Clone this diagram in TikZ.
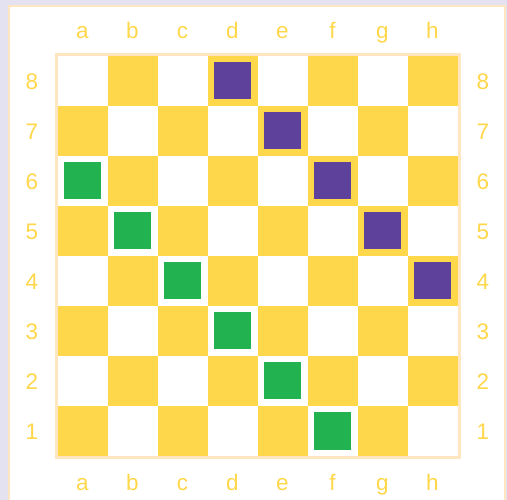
\documentclass[tikz,border=0pt]{standalone}
\usepackage{fontspec}
\setmainfont{Liberation Sans}
\definecolor{boardyellow}{HTML}{FFD74A}
\definecolor{queenpurple}{HTML}{5E419A}
\definecolor{queengreen}{HTML}{22B24F}
\definecolor{framecol}{HTML}{FDE6C0}
\definecolor{backlav}{HTML}{E4E2F0}
\tikzset{
  coordlabel/.style={text=boardyellow, font=\fontsize{22.5}{22.5}\selectfont, inner sep=0pt, anchor=base},
  piece/.style={minimum size=37pt, inner sep=0pt, draw=none}
}
\begin{document}
\begin{tikzpicture}[x=1pt,y=-1pt]
    \fill[backlav] (0,0) rectangle (507,500);
    \useasboundingbox (0,0) rectangle (507,500);
    \draw[framecol, line width=2pt, fill=white] (9,6) rectangle (505,503);
    % board squares
    \foreach \i in {0,...,7}
      \foreach \j in {0,...,7} {
        \pgfmathtruncatemacro{\odd}{mod(\i+\j,2)}
        \ifnum\odd=1
          \fill[boardyellow] (57.5+50*\i,56+50*\j) rectangle ++(50,50);
        \fi
      }
    \draw[framecol, line width=3pt] (56,54.5) rectangle (459,457.5);
    % coordinates round the board
    \foreach \l [count=\i from 0] in {a,b,c,d,e,f,g,h} {
      \node[coordlabel] (top-\l) at (82.5+50*\i,39) {\l};
      \node[coordlabel] (bot-\l) at (82.5+50*\i,490.5) {\l};
    }
    \foreach \n [count=\j from 0] in {8,7,6,5,4,3,2,1} {
      \node[coordlabel] (left-\n) at (32,89.5+50*\j) {\n};
      \node[coordlabel] (right-\n) at (483,89.5+50*\j) {\n};
    }
    % purple pieces
    \foreach \i/\j [count=\k] in {3/0,4/1,5/2,6/3,7/4}
      \node[piece, fill=queenpurple] (p\k) at (82.5+50*\i,81+50*\j) {};
    % green pieces
    \foreach \i/\j [count=\k] in {0/2,1/3,2/4,3/5,4/6,5/7}
      \node[piece, fill=queengreen] (g\k) at (82.5+50*\i,81+50*\j) {};
\end{tikzpicture}
\end{document}
